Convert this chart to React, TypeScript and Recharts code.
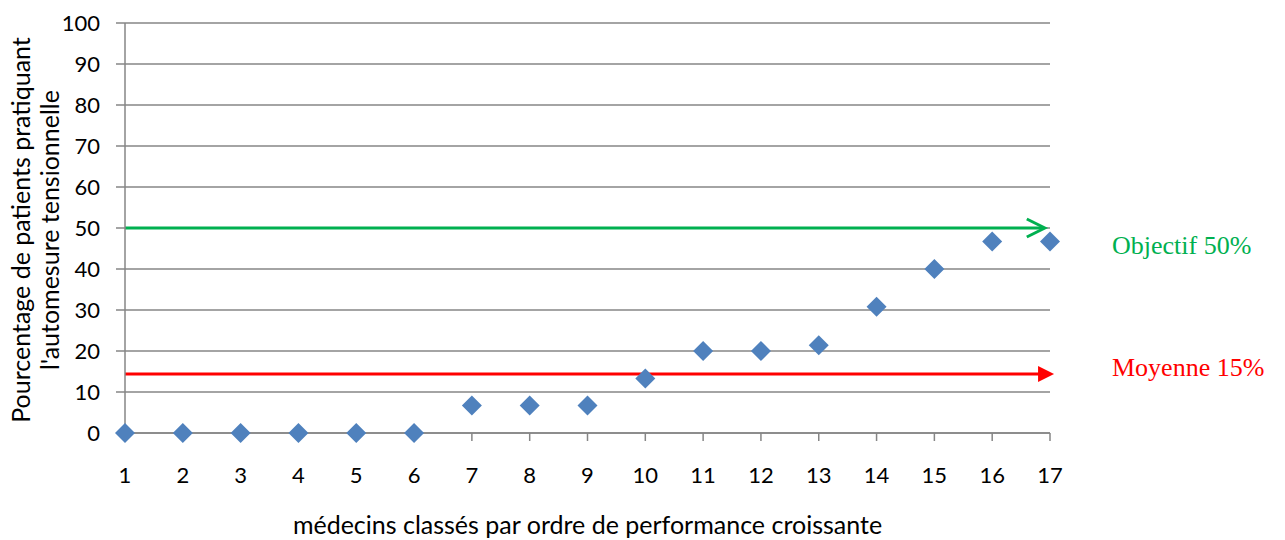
import { ComposedChart, Scatter, XAxis, YAxis, CartesianGrid, ReferenceLine } from 'recharts';

const doctors = [1, 2, 3, 4, 5, 6, 7, 8, 9, 10, 11, 12, 13, 14, 15, 16, 17];
const percentages = [0, 0, 0, 0, 0, 0, 6.7, 6.7, 6.7, 13.3, 20, 20, 21.4, 30.8, 40, 46.7, 46.7];
const yTicks = [0, 10, 20, 30, 40, 50, 60, 70, 80, 90, 100];
const objectif = 50;
const moyenne = 14.4;

const data = doctors.map((d, i) => ({ rank: d, pct: percentages[i] }));

const FONT = 'Lato, "Open Sans", sans-serif';
const GRID = '#868686';

const Diamond = (props: any) => {
  const { cx, cy } = props;
  const r = 10;
  return <polygon points={`${cx},${cy - r} ${cx + r},${cy} ${cx},${cy + r} ${cx - r},${cy}`} fill="#4F81BD" />;
};

const GreenArrow = (props: any) => {
  const { x1, y1, x2, y2 } = props;
  return (
    <g>
      <line x1={x1} y1={y1} x2={x2 - 1} y2={y2} stroke="#00B050" strokeWidth={3} />
      <polyline points={`${x2 - 18},${y2 - 9} ${x2},${y2} ${x2 - 18},${y2 + 9}`} fill="none" stroke="#00B050" strokeWidth={3} />
    </g>
  );
};

const RedArrow = (props: any) => {
  const { x1, y1, x2, y2 } = props;
  return (
    <g>
      <line x1={x1} y1={y1} x2={x2 - 14} y2={y2} stroke="#FF0000" strokeWidth={3} />
      <polygon points={`${x2 - 16},${y2 - 8} ${x2},${y2} ${x2 - 16},${y2 + 8}`} fill="#FF0000" />
    </g>
  );
};

const sideLabel = (text: string, color: string, dy: number) => (props: any) => {
  const { viewBox } = props;
  const y = (viewBox?.y ?? 0) + dy;
  return (
    <text x={1112} y={y} fill={color} fontFamily='"Liberation Serif", "Times New Roman", serif' fontSize={26} dominantBaseline="central">
      {text}
    </text>
  );
};

const YTitle = () => (
  <g fontFamily={FONT} fontSize={25} fill="#000">
    <text transform="translate(20,230) rotate(-90)" textAnchor="middle" dominantBaseline="central">
      Pourcentage de patients pratiquant
    </text>
    <text transform="translate(49,230) rotate(-90)" textAnchor="middle" dominantBaseline="central">
      l'automesure tensionnelle
    </text>
  </g>
);

const XTitle = () => (
  <text x={587.5} y={524} textAnchor="middle" dominantBaseline="central" fontFamily={FONT} fontSize={25} fill="#000">
    médecins classés par ordre de performance croissante
  </text>
);

export default function App() {
  return (
    <div style={{ position: 'absolute', left: 0, top: 0, background: '#fff' }}>
      <ComposedChart width={1285} height={540} margin={{ top: 23, right: 235, left: 65, bottom: 7 }}>
        <CartesianGrid vertical={false} stroke={GRID} strokeWidth={1.5} />
        <XAxis
          dataKey="rank"
          type="number"
          domain={[1, 17]}
          ticks={doctors}
          interval={0}
          height={100}
          stroke={GRID}
          strokeWidth={1.5}
          tickSize={8}
          tickMargin={26}
          tick={{ fill: '#000', fontSize: 22, fontFamily: FONT }}
          label={<XTitle />}
        />
        <YAxis
          dataKey="pct"
          type="number"
          domain={[0, 100]}
          ticks={yTicks}
          interval={0}
          width={60}
          stroke={GRID}
          strokeWidth={1.5}
          tickSize={9}
          tickMargin={16}
          tick={{ fill: '#000', fontSize: 22, fontFamily: FONT }}
          label={<YTitle />}
        />
        <ReferenceLine
          segment={[{ x: 1, y: objectif }, { x: 16.91, y: objectif }]}
          ifOverflow="visible"
          shape={<GreenArrow />}
          label={sideLabel('Objectif 50%', '#00B050', 17)}
        />
        <ReferenceLine
          segment={[{ x: 1, y: moyenne }, { x: 17.07, y: moyenne }]}
          ifOverflow="visible"
          shape={<RedArrow />}
          label={sideLabel('Moyenne 15%', '#FF0000', -6)}
        />
        <Scatter data={data} dataKey="pct" shape={<Diamond />} isAnimationActive={false} />
      </ComposedChart>
    </div>
  );
}
